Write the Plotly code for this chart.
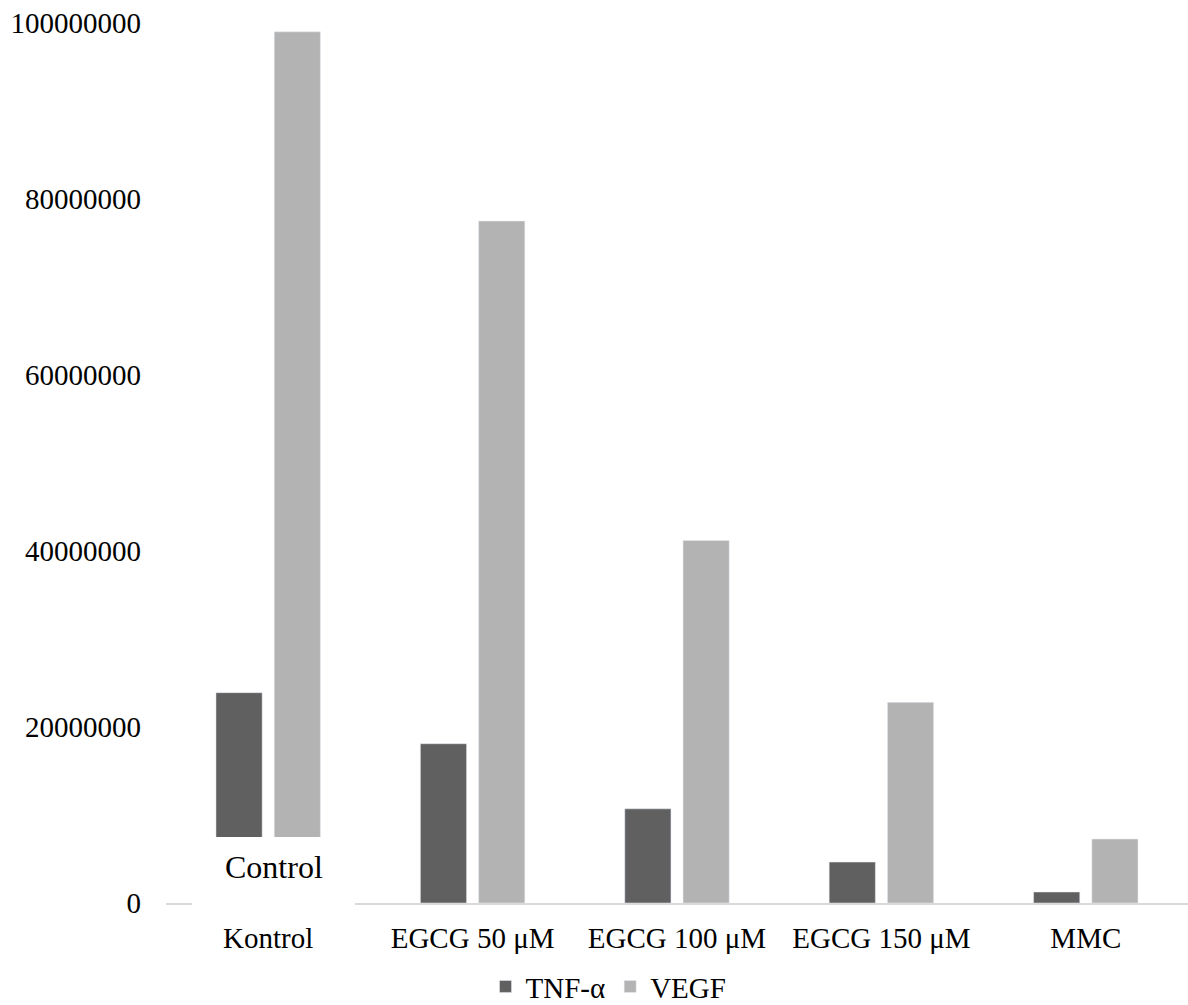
import plotly.graph_objects as go

categories = ["Kontrol", "EGCG 50 μM", "EGCG 100 μM", "EGCG 150 μM", "MMC"]
tnf_alpha = [23900000, 18100000, 10700000, 4650000, 1250000]
vegf = [99000000, 77500000, 41200000, 22800000, 7270000]
y_ticks = [0, 20000000, 40000000, 60000000, 80000000, 100000000]

FONT = "Liberation Serif, Times New Roman, serif"

fig = go.Figure()
fig.add_trace(go.Bar(name="TNF-α", x=categories, y=tnf_alpha, marker_color="#606060"))
fig.add_trace(go.Bar(name="VEGF", x=categories, y=vegf, marker_color="#b3b3b3"))

fig.update_layout(
    width=1188, height=1005,
    margin=dict(l=166, r=0, t=23, b=102, autoexpand=False),
    plot_bgcolor="white", paper_bgcolor="white",
    barmode="group", bargap=0.43, bargroupgap=0.207,
    font=dict(family=FONT, size=29, color="black"),
    showlegend=True,
    legend=dict(orientation="h", x=0.433, y=-0.095, xanchor="center", yanchor="middle",
                font=dict(family=FONT, size=29, color="black"),
                itemwidth=30, tracegroupgap=0),
)
fig.update_xaxes(showline=True, linecolor="#d9d9d9", linewidth=2, showgrid=False,
                 ticks="", ticklabelstandoff=8, tickfont=dict(family=FONT, size=29))
fig.update_yaxes(range=[0, 100000000], tickvals=y_ticks, ticktext=[str(v) for v in y_ticks],
                 showgrid=False, zeroline=False, showline=False, ticks="",
                 ticklabelstandoff=24, tickfont=dict(family=FONT, size=29))

# white cover box over the base of the Kontrol bars
fig.add_annotation(x=categories[0], y=0, xref="x", yref="y", text=" ",
                   showarrow=False, xanchor="center", yanchor="bottom",
                   xshift=5.5, yshift=-3, width=163, height=69,
                   bgcolor="white", borderpad=0, borderwidth=0,
                   font=dict(family=FONT, size=32, color="black"))
fig.add_annotation(x=categories[0], y=0, xref="x", yref="y", text="Control",
                   showarrow=False, xanchor="center", yanchor="middle",
                   xshift=5.5, yshift=36,
                   font=dict(family=FONT, size=32, color="black"))

fig.write_html("out.html", config={"displayModeBar": False},
               post_script="document.body.style.margin='0';")
